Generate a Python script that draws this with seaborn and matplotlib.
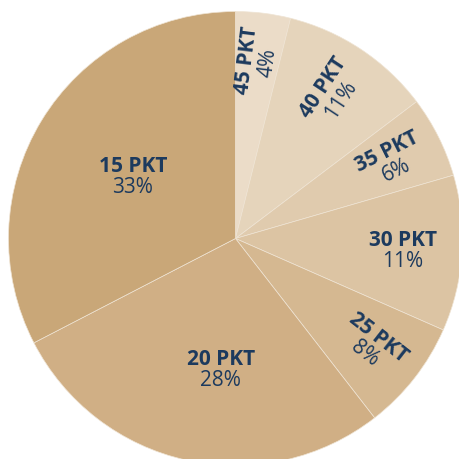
import numpy as np
import matplotlib
matplotlib.use("Agg")
import matplotlib.pyplot as plt
import seaborn as sns

# data, clockwise from 12 o'clock
categories = ["45 PKT", "40 PKT", "35 PKT", "30 PKT", "25 PKT", "20 PKT", "15 PKT"]
shares = [3.9, 10.8, 5.8, 11.1, 7.9, 27.9, 32.6]
pct_labels = ["4%", "11%", "6%", "11%", "8%", "28%", "33%"]

colors = ["#ebdcc8", "#e5d4bb", "#e0cbae", "#dcc4a3", "#d5b891", "#d0af85", "#c9a778"]
navy = "#1c3a5e"

# label placement: radius fraction, angle nudge (deg), rotate radially?
label_r = [0.79, 0.77, 0.77, 0.74, 0.76, 0.58, 0.53]
label_nudge = [0, 0, 0, 0, 0, 6, 0]
label_rot = [True, True, True, False, True, False, False]

sns.set_theme(style="white")
plt.rcParams["font.family"] = ["Open Sans", "DejaVu Sans"]

fig = plt.figure(figsize=(4.6, 4.6), dpi=100)
ax = fig.add_axes([0, 0, 1, 1])

cx, cy, R = 235.5, 220.5, 227
wedges, _ = ax.pie(shares, colors=colors, startangle=90, counterclock=False,
                   center=(cx, cy), radius=R,
                   wedgeprops=dict(edgecolor="#efe4d4", linewidth=0.5))
ax.set_xlim(0, 460)
ax.set_ylim(0, 460)
ax.set_aspect("equal")
ax.axis("off")

gap = 10.5  # half line spacing in px
for w, name, pct, rf, nd, rot in zip(wedges, categories, pct_labels, label_r, label_nudge, label_rot):
    mid = (w.theta1 + w.theta2) / 2 + nd
    a = np.deg2rad(mid)
    x = cx + rf * R * np.cos(a)
    y = cy + rf * R * np.sin(a)
    ang = mid if rot else 0
    t = np.deg2rad(ang)
    dx, dy = np.sin(t) * gap, -np.cos(t) * gap
    ax.text(x - dx, y - dy, name, rotation=ang, ha="center", va="center",
            rotation_mode="anchor", fontsize=15, fontweight="bold", color=navy)
    ax.text(x + dx, y + dy, pct, rotation=ang, ha="center", va="center",
            rotation_mode="anchor", fontsize=15, color=navy)

fig.savefig("out.png", dpi=100)
